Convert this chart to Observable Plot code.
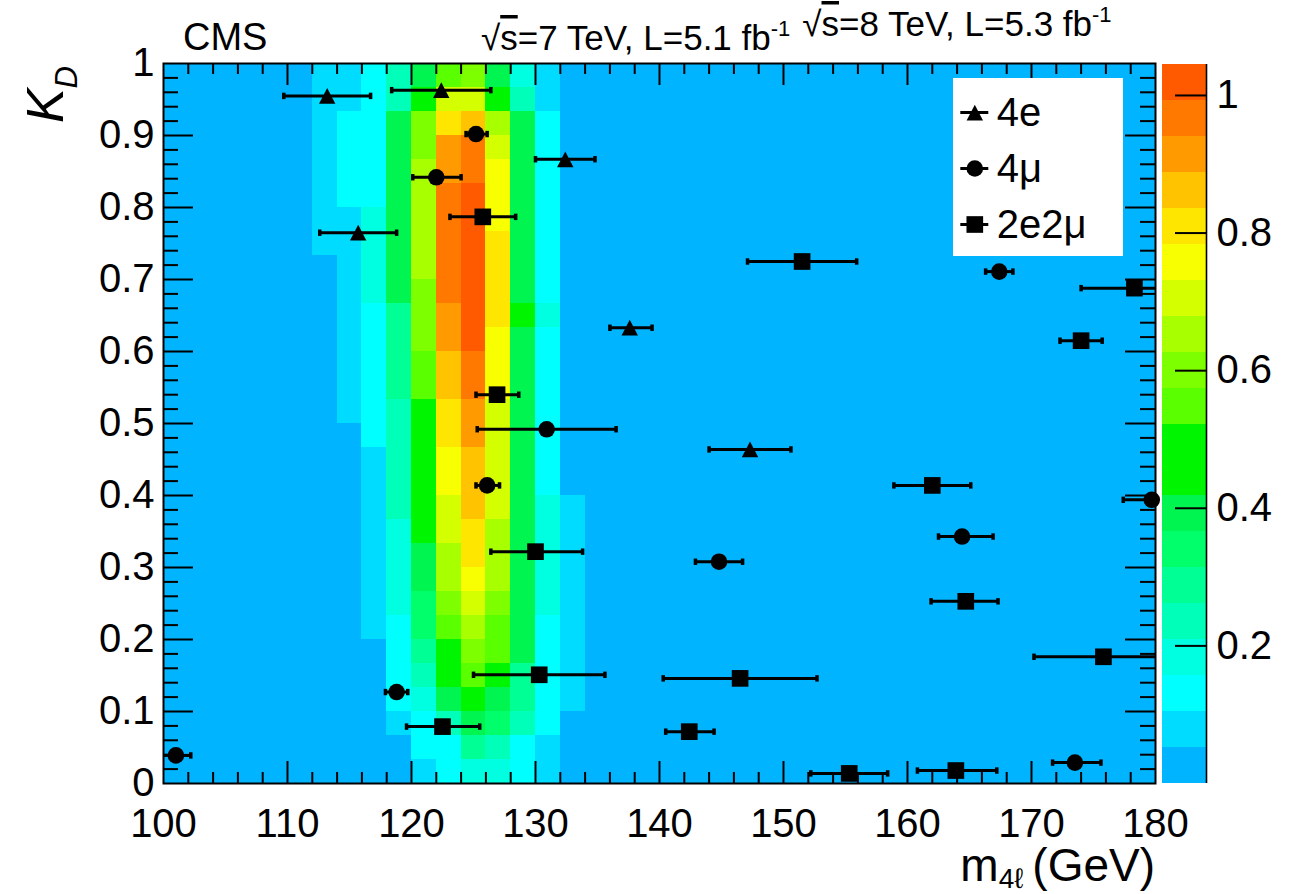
<!DOCTYPE html>
<html><head><meta charset="utf-8">
<script src="https://cdn.jsdelivr.net/npm/d3@7"></script>
<script src="https://cdn.jsdelivr.net/npm/@observablehq/plot@0.6"></script>
<style>
html,body{margin:0;padding:0;background:#fff;}
#chart{position:relative;width:1291px;height:894px;overflow:hidden;font-family:"Liberation Sans",Arial,Helvetica,sans-serif;}
#chart > svg{position:absolute;}
</style></head><body><div id="chart"></div>
<script>
// ---------- heat map (expected signal density), 2 GeV x (1/30) K_D bins ----------
// each column array lists the 30 K_D rows from K_D = 1 (top) down to K_D = 0
const massBinWidth = 2;
const kdBinCount = 30;
const zMax = 1.045;
const zBackground = 0.03;
const massBinStarts = [112, 114, 116, 118, 120, 122, 124, 126, 128, 130, 132];
const z112 = [0.08,0.08,0.08,0.08,0.08,0.08,0.08,0.08,0.03,0.03, 0.03,0.03,0.03,0.03,0.03,0.03,0.03,0.03,0.03,0.03, 0.03,0.03,0.03,0.03,0.03,0.03,0.03,0.03,0.03,0.03];
const z114 = [0.08,0.08,0.13,0.13,0.13,0.13,0.08,0.08,0.08,0.08, 0.08,0.08,0.08,0.08,0.08,0.03,0.03,0.03,0.03,0.03, 0.03,0.03,0.03,0.03,0.03,0.03,0.03,0.03,0.03,0.03];
const z116 = [0.13,0.13,0.13,0.13,0.13,0.13,0.18,0.18,0.18,0.18, 0.13,0.13,0.13,0.13,0.13,0.13,0.08,0.08,0.08,0.08, 0.08,0.08,0.08,0.08,0.03,0.03,0.03,0.03,0.03,0.03];
const z118 = [0.24,0.24,0.39,0.39,0.39,0.39,0.39,0.39,0.39,0.39, 0.29,0.29,0.29,0.29,0.24,0.24,0.24,0.24,0.24,0.18, 0.18,0.18,0.18,0.13,0.13,0.13,0.13,0.08,0.03,0.03];
const z120 = [0.39,0.44,0.60,0.60,0.65,0.65,0.65,0.65,0.65,0.60, 0.60,0.60,0.55,0.55,0.44,0.44,0.44,0.44,0.44,0.44, 0.39,0.39,0.34,0.34,0.29,0.24,0.18,0.13,0.13,0.08];
const z122 = [0.55,0.71,0.81,0.91,0.91,0.97,0.97,0.97,0.97,0.97, 0.91,0.91,0.86,0.86,0.81,0.81,0.76,0.76,0.71,0.71, 0.65,0.65,0.60,0.55,0.44,0.44,0.39,0.24,0.13,0.13];
const z124 = [0.60,0.71,0.86,0.97,0.97,1.02,1.02,1.02,1.02,1.02, 1.02,1.02,0.97,0.97,0.91,0.91,0.86,0.86,0.86,0.81, 0.81,0.76,0.71,0.65,0.60,0.55,0.44,0.39,0.29,0.18];
const z126 = [0.39,0.44,0.65,0.71,0.76,0.76,0.76,0.81,0.81,0.81, 0.81,0.76,0.76,0.76,0.71,0.71,0.71,0.71,0.71,0.65, 0.65,0.65,0.60,0.55,0.55,0.44,0.39,0.34,0.24,0.18];
const z128 = [0.18,0.24,0.39,0.39,0.39,0.39,0.39,0.39,0.39,0.39, 0.44,0.39,0.39,0.39,0.39,0.39,0.39,0.39,0.39,0.39, 0.39,0.39,0.39,0.39,0.39,0.29,0.29,0.24,0.13,0.13];
const z130 = [0.08,0.08,0.13,0.13,0.13,0.13,0.13,0.13,0.13,0.13, 0.18,0.13,0.13,0.13,0.13,0.13,0.13,0.13,0.18,0.18, 0.18,0.18,0.18,0.13,0.13,0.13,0.13,0.13,0.08,0.08];
const z132 = [0.03,0.03,0.03,0.03,0.03,0.03,0.03,0.03,0.03,0.03, 0.03,0.03,0.03,0.03,0.03,0.03,0.03,0.03,0.08,0.08, 0.08,0.08,0.08,0.08,0.08,0.08,0.08,0.03,0.03,0.03];
const zColumns = [z112, z114, z116, z118, z120, z122, z124, z126, z128, z130, z132];

// colour palette: 20 contour levels between 0 and zMax
const levelColors = ["#00b4ff","#00dcff","#00ffff","#00ffe0","#00ffb8","#00ff94","#00ff6a","#00f550","#00f500","#00f500",
                     "#5aff00","#7dff00","#a8ff00","#d4ff00","#f7ff00","#ffe600","#ffc300","#ff9b00","#ff7800","#ff5a00"];
const colorTicks = [0.2, 0.4, 0.6, 0.8, 1];

// ---------- events: m4l, K_D, mass-error low / high ----------
const mass4e = [113.2, 122.4, 132.4, 115.7, 137.6, 147.3];
const kd4e   = [0.955, 0.963, 0.867, 0.765, 0.633, 0.464];
const lo4e   = [109.7, 118.4, 130.0, 112.6, 136.0, 144.0];
const hi4e   = [116.7, 126.4, 134.8, 118.8, 139.4, 150.6];

const mass4mu = [125.2, 122.0, 167.4, 130.9, 126.1, 144.8, 164.4, 179.7, 118.8, 101.0, 173.5];
const kd4mu   = [0.902, 0.842, 0.711, 0.492, 0.414, 0.308, 0.343, 0.394, 0.127, 0.039, 0.029];
const lo4mu   = [124.4, 120.1, 166.3, 125.3, 125.2, 142.9, 162.5, 177.4, 117.9, 99.9, 171.7];
const hi4mu   = [126.1, 124.0, 168.5, 136.5, 127.1, 146.7, 166.9, 182.0, 119.7, 102.2, 175.6];

const mass2e2mu = [125.75, 151.5, 174.0, 178.3, 126.9, 162.0, 130.0, 164.7, 175.8, 130.3, 146.5, 122.5, 142.4, 155.3, 163.9];
const kd2e2mu   = [0.787, 0.725, 0.615, 0.688, 0.540, 0.414, 0.322, 0.253, 0.176, 0.151, 0.146, 0.079, 0.072, 0.014, 0.018];
const lo2e2mu   = [123.1, 147.1, 172.3, 174.0, 125.2, 158.9, 126.4, 161.9, 170.2, 125.0, 140.3, 119.6, 140.5, 152.2, 160.8];
const hi2e2mu   = [128.4, 155.9, 175.7, 182.0, 128.65, 165.1, 133.8, 167.3, 182.0, 135.6, 152.7, 125.5, 144.4, 158.4, 167.2];

const channels = ["4e", "4\u03bc", "2e2\u03bc"];

// ---------- axis ticks ----------
const xMajorTicks = [100, 110, 120, 130, 140, 150, 160, 170, 180];
const yMajorTicks = [0, 0.1, 0.2, 0.3, 0.4, 0.5, 0.6, 0.7, 0.8, 0.9, 1];

// ---------- build tables ----------
const cells = [];
for (let m = 100; m < 180; m += massBinWidth) {
  const ci = massBinStarts.indexOf(m);
  for (let r = 0; r < kdBinCount; r++) {
    cells.push({m1: m, m2: m + massBinWidth, k1: 1 - (r + 1) / kdBinCount, k2: 1 - r / kdBinCount,
                z: ci >= 0 ? zColumns[ci][r] : zBackground});
  }
}
const toRows = (ms, ks, los, his) => ms.map((m, i) => ({mass: m, kd: ks[i], lo: los[i], hi: his[i]}));
const ev4e = toRows(mass4e, kd4e, lo4e, hi4e);
const ev4mu = toRows(mass4mu, kd4mu, lo4mu, hi4mu);
const ev2e2mu = toRows(mass2e2mu, kd2e2mu, lo2e2mu, hi2e2mu);
const allEv = [...ev4e, ...ev4mu, ...ev2e2mu];

const levels = levelColors.map((c, i) => ({z1: i * zMax / levelColors.length, z2: (i + 1) * zMax / levelColors.length}));
const zThresholds = levels.slice(1).map(d => d.z1);
const colorScale = {type: "threshold", domain: zThresholds, range: levelColors};

const xMinorTicks = d3.range(102, 180, 2).filter(v => v % 10 !== 0);
const xInnerMajor = xMajorTicks.slice(1, -1);
const yMinorTicks = d3.range(1, 50).filter(i => i % 5 !== 0).map(i => i / 50);
const yInnerMajor = yMajorTicks.slice(1, -1);

// ---------- symbols ----------
const triSym = {draw(ctx, size) { const r = Math.sqrt(size / Math.PI); const w = r * 1.3, h = r * 1.25;
  ctx.moveTo(0, -h); ctx.lineTo(w, h); ctx.lineTo(-w, h); ctx.closePath(); }};
const capSym = {draw(ctx, size) { const r = Math.sqrt(size / Math.PI); ctx.rect(-r * 0.55, -r, r * 1.1, 2 * r); }};

const font = '"Liberation Sans", Arial, Helvetica, sans-serif';
const W = 1291, H = 894, mL = 163, mR = 136, mT = 63, mB = 111;
const fw = W - mL - mR, fh = H - mT - mB;
const yFmt = d => d === 0 ? "0" : d === 1 ? "1" : d.toFixed(1);

const main = Plot.plot({
  width: W, height: H, marginLeft: mL, marginRight: mR, marginTop: mT, marginBottom: mB,
  x: {domain: [100, 180]},
  y: {domain: [0, 1]},
  color: colorScale,
  style: {fontFamily: font, color: "black", background: "white", overflow: "visible"},
  marks: [
    Plot.rect(cells, {x1: "m1", x2: "m2", y1: "k1", y2: "k2", fill: "z", shapeRendering: "crispEdges"}),
    Plot.ruleY(allEv, {y: "kd", x1: "lo", x2: "hi", stroke: "black", strokeWidth: 3, clip: true}),
    Plot.dot(allEv, {x: "lo", y: "kd", symbol: capSym, r: 3.2, fill: "black", stroke: null, clip: true}),
    Plot.dot(allEv, {x: "hi", y: "kd", symbol: capSym, r: 3.2, fill: "black", stroke: null, clip: true}),
    Plot.dot(ev4e, {x: "mass", y: "kd", symbol: triSym, r: 6.3, fill: "black", stroke: null}),
    Plot.dot(ev4mu, {x: "mass", y: "kd", symbol: "circle", r: 8.3, fill: "black", stroke: null}),
    Plot.dot(ev2e2mu, {x: "mass", y: "kd", symbol: "square", r: 9.4, fill: "black", stroke: null}),
    // inward ticks on all four sides
    Plot.tickX(xMinorTicks, {x: d => d, insetTop: fh - 11, stroke: "black", strokeWidth: 2}),
    Plot.tickX(xMinorTicks, {x: d => d, insetBottom: fh - 11, stroke: "black", strokeWidth: 2}),
    Plot.tickX(xInnerMajor, {x: d => d, insetTop: fh - 22, stroke: "black", strokeWidth: 2}),
    Plot.tickX(xInnerMajor, {x: d => d, insetBottom: fh - 22, stroke: "black", strokeWidth: 2}),
    Plot.tickY(yMinorTicks, {y: d => d, insetRight: fw - 15, stroke: "black", strokeWidth: 2}),
    Plot.tickY(yMinorTicks, {y: d => d, insetLeft: fw - 15, stroke: "black", strokeWidth: 2}),
    Plot.tickY(yInnerMajor, {y: d => d, insetRight: fw - 30, stroke: "black", strokeWidth: 2}),
    Plot.tickY(yInnerMajor, {y: d => d, insetLeft: fw - 30, stroke: "black", strokeWidth: 2}),
    Plot.frame({stroke: "black", strokeWidth: 2}),
    Plot.axisX({ticks: xMajorTicks, tickSize: 0, tickPadding: 25, fontSize: 40, label: null, tickFormat: d => String(d)}),
    Plot.axisY({ticks: yMajorTicks, tickSize: 0, tickPadding: 9, fontSize: 40, label: null, tickFormat: yFmt})
  ]
});

// colour bar
const cbar = Plot.plot({
  width: 136, height: H, marginLeft: 7, marginRight: 85, marginTop: 64, marginBottom: mB,
  x: {domain: [0, 1], axis: null},
  y: {domain: [0, zMax]},
  color: colorScale,
  style: {fontFamily: font, color: "black", background: "transparent"},
  marks: [
    Plot.rect(levels, {y1: "z1", y2: "z2", fill: d => (d.z1 + d.z2) / 2, shapeRendering: "crispEdges"}),
    Plot.ruleX([1], {stroke: "black", strokeWidth: 1.6}),
    Plot.tickY(colorTicks, {y: d => d, insetLeft: 13, stroke: "black", strokeWidth: 2}),
    Plot.axisY({anchor: "right", ticks: colorTicks, tickSize: 0, tickPadding: 10, fontSize: 40, label: null,
                tickFormat: d => d === 1 ? "1" : d.toFixed(1), textAnchor: "start"})
  ]
});

// legend
const legendSymbols = [triSym, "circle", "square"];
const legendR = [6.3, 8.3, 9.4];
const legend = Plot.plot({
  width: 170, height: 178, marginLeft: 7.3, marginRight: 134.7, marginTop: 33.4, marginBottom: 31.3,
  x: {domain: [0, 1], axis: null},
  y: {type: "point", domain: channels, padding: 0, axis: null},
  style: {fontFamily: font, color: "black", background: "white"},
  marks: [
    Plot.ruleY(channels, {y: d => d, stroke: "black", strokeWidth: 3}),
    ...channels.map((c, i) => Plot.dot([c], {y: d => d, symbol: legendSymbols[i], r: legendR[i], fill: "black", stroke: null})),
    Plot.text(channels, {y: d => d, text: d => d, frameAnchor: "right", textAnchor: "start", dx: 8, dy: 1, fontSize: 40})
  ]
});

const chart = document.getElementById("chart");
main.style.left = "0px"; main.style.top = "0px";
cbar.style.left = "1155px"; cbar.style.top = "0px";
legend.style.left = "952.7px"; legend.style.top = "78.3px";
chart.append(main, cbar, legend);

// titles and annotation text (with sub/superscripts)
const svg = d3.select(main);
svg.append("text").attr("x", 183).attr("y", 50).attr("font-size", 38).attr("text-anchor", "start").text("CMS");

const ann = svg.append("text").attr("x", 481).attr("y", 50).attr("font-size", 35).attr("text-anchor", "start");
const addEnergy = (first, sqrtsVal, lumi) => {
  ann.append("tspan").attr("dx", first ? 0 : 12).text("\u221a");
  ann.append("tspan").attr("text-decoration", "overline").text("s");
  ann.append("tspan").text(`=${sqrtsVal} TeV, L=${lumi} fb`);
  ann.append("tspan").attr("font-size", 22).attr("dy", -14).text("-1");
  ann.append("tspan").attr("font-size", 35).attr("dy", 14).text("");
};
addEnergy(true, 7, "5.1");
addEnergy(false, 8, "5.3");

const xt = svg.append("text").attr("x", 1155).attr("y", 881).attr("text-anchor", "end").attr("font-size", 46);
xt.append("tspan").text("m");
xt.append("tspan").attr("font-size", 28).attr("dy", 7).text("4\u2113");
xt.append("tspan").attr("font-size", 46).attr("dy", -7).attr("dx", 9).text("(GeV)");

const yt = svg.append("text").attr("transform", "translate(63,66) rotate(-90)").attr("text-anchor", "end")
  .attr("font-size", 52).attr("font-style", "italic");
yt.append("tspan").text("K");
yt.append("tspan").attr("font-size", 31).attr("dy", 14).text("D");
</script></body></html>
